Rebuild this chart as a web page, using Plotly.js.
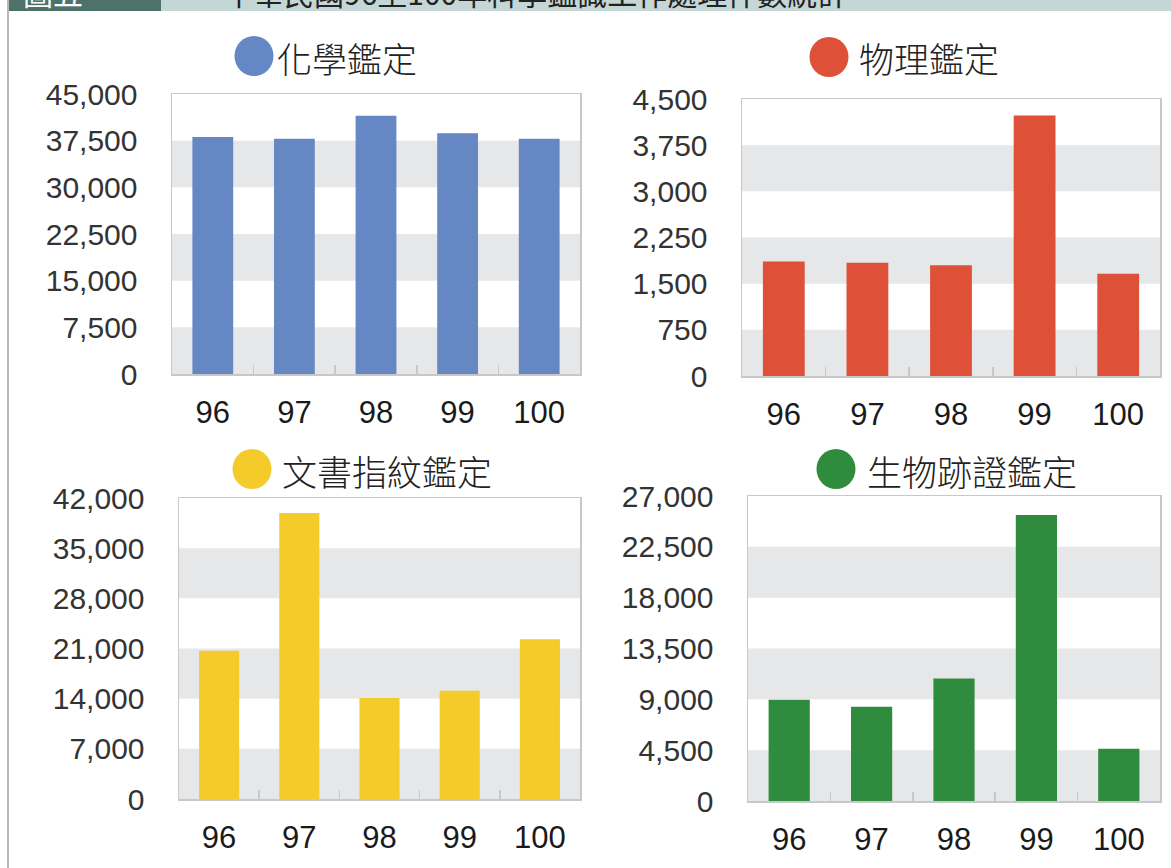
<!DOCTYPE html>
<html>
<head>
<meta charset="utf-8">
<script src="https://cdn.plot.ly/plotly-3.0.1.min.js"></script>
<style>
html,body{margin:0;padding:0;background:#fff;overflow:hidden;}
#chart{width:1171px;height:868px;}
</style>
</head>
<body>
<div id="chart"></div>
<script>
// ---- data ----
const years = ['96', '97', '98', '99', '100'];
const chemistry = [38100, 37800, 41500, 38700, 37800];
const physics = [1860, 1840, 1800, 4230, 1660];
const documents = [20700, 39900, 14100, 15100, 22300];
const biology = [8960, 8340, 10850, 25320, 4630];

const chemTicks = [0, 7500, 15000, 22500, 30000, 37500, 45000];
const physTicks = [0, 750, 1500, 2250, 3000, 3750, 4500];
const docTicks = [0, 7000, 14000, 21000, 28000, 35000, 42000];
const bioTicks = [0, 4500, 9000, 13500, 18000, 22500, 27000];

const titles = ['化學鑑定', '物理鑑定', '文書指紋鑑定', '生物跡證鑑定'];
const headerLabel = '圖五';
const headerTitle = '中華民國96至100年科學鑑識工作處理件數統計';

// ---- layout helpers ----
const W = 1171, H = 868;
const px = x => x / W;
const py = y => 1 - y / H;

const panels = [
  {vals: chemistry, ticks: chemTicks, color: '#6588c4', box: [172, 580, 94, 374], circle: [254, 56], text: [275, 57]},
  {vals: physics, ticks: physTicks, color: '#de5038', box: [742, 1160, 99, 376], circle: [829, 57], text: [857, 58]},
  {vals: documents, ticks: docTicks, color: '#f5cb2b', box: [179, 580, 498, 799], circle: [252, 469], text: [280, 470]},
  {vals: biology, ticks: bioTicks, color: '#2f8c3e', box: [748, 1160, 496, 801], circle: [836, 469], text: [865, 470]}
];

const numFont = {family: 'Liberation Sans, Arial, sans-serif', size: 30, color: '#333333'};
const catFont = {family: 'Liberation Sans, Arial, sans-serif', size: 31, color: '#1a1a1a'};
const cjkFont = {family: 'Noto Sans CJK TC, sans-serif', size: 35, color: '#222222', weight: 300};

const traces = [];
const layout = {
  width: W, height: H,
  margin: {l: 0, r: 0, t: 0, b: 0},
  paper_bgcolor: '#ffffff',
  plot_bgcolor: 'rgba(0,0,0,0)',
  showlegend: false,
  bargap: 0.5,
  shapes: [],
  annotations: []
};

panels.forEach((p, i) => {
  const n = i + 1;
  const xa = n === 1 ? 'x' : 'x' + n;
  const ya = n === 1 ? 'y' : 'y' + n;
  traces.push({
    type: 'bar', x: years, y: p.vals, xaxis: xa, yaxis: ya,
    marker: {color: p.color, line: {width: 0}},
    hoverinfo: 'x+y'
  });
  const top = p.ticks[p.ticks.length - 1];
  layout['xaxis' + (n === 1 ? '' : n)] = {
    domain: [px(p.box[0]), px(p.box[1])],
    anchor: ya,
    type: 'category',
    showline: true, mirror: true, linecolor: '#c8c8c8', linewidth: 1.5,
    showgrid: false, zeroline: false,
    ticks: 'inside', tickson: 'boundaries', ticklen: 9, tickcolor: '#c8c8c8', tickwidth: 1.5,
    tickfont: catFont, ticklabelstandoff: 10,
    fixedrange: true
  };
  layout['yaxis' + (n === 1 ? '' : n)] = {
    domain: [py(p.box[3]), py(p.box[2])],
    anchor: xa,
    range: [0, top],
    tickmode: 'array', tickvals: p.ticks, tickformat: ',d',
    showline: true, mirror: true, linecolor: '#c8c8c8', linewidth: 1.5,
    showgrid: false, zeroline: false, ticks: '',
    tickfont: numFont, ticklabelstandoff: 27,
    fixedrange: true
  };
  // alternating grey bands
  for (let k = 0; k < p.ticks.length - 1; k += 2) {
    layout.shapes.push({
      type: 'rect', xref: xa + ' domain', yref: ya,
      x0: 0, x1: 1, y0: p.ticks[k], y1: p.ticks[k + 1],
      fillcolor: '#e6e7e9', line: {width: 0}, layer: 'below'
    });
  }
  // title circle + text
  const r = 19.5, rv = 20;
  layout.shapes.push({
    type: 'circle', xref: 'paper', yref: 'paper',
    x0: px(p.circle[0] - r), x1: px(p.circle[0] + r),
    y0: py(p.circle[1] + rv), y1: py(p.circle[1] - rv),
    fillcolor: p.color, line: {width: 0}
  });
  layout.annotations.push({
    xref: 'paper', yref: 'paper', x: px(p.text[0]), y: py(p.text[1]),
    xanchor: 'left', yanchor: 'middle', showarrow: false,
    text: titles[i], font: cjkFont
  });
});

// header band and left rule
layout.shapes.push(
  {type: 'rect', xref: 'paper', yref: 'paper', x0: px(8), x1: px(161), y0: py(11), y1: 1.01, fillcolor: '#4e7169', line: {width: 0}},
  {type: 'rect', xref: 'paper', yref: 'paper', x0: px(161), x1: 1.01, y0: py(11), y1: 1.01, fillcolor: '#c4d7d6', line: {width: 0}},
  {type: 'line', xref: 'paper', yref: 'paper', x0: px(8), x1: px(8), y0: 0, y1: 1, line: {color: '#b8b8b8', width: 2}}
);
layout.annotations.push(
  {xref: 'paper', yref: 'paper', x: px(53), y: py(16), xanchor: 'center', yanchor: 'bottom', showarrow: false,
   text: headerLabel, font: {family: 'Noto Sans CJK TC, sans-serif', size: 30, color: '#ffffff'}},
  {xref: 'paper', yref: 'paper', x: px(222), y: py(16), xanchor: 'left', yanchor: 'bottom', showarrow: false,
   text: headerTitle, font: {family: 'Noto Sans CJK TC, sans-serif', size: 30, color: '#222222'}}
);

Plotly.newPlot('chart', traces, layout, {displayModeBar: false, staticPlot: true});
</script>
</body>
</html>
